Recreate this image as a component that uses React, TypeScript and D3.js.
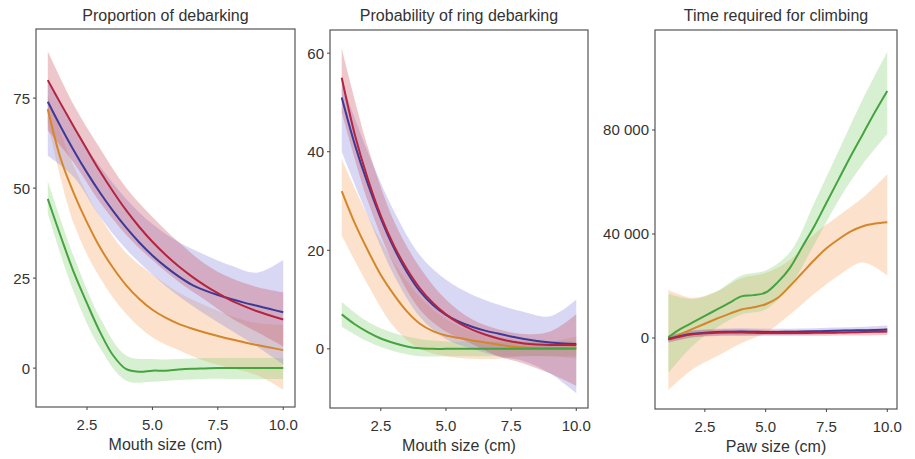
import React from 'react';
import * as d3 from 'd3';

// x grid for the fitted lines (half cm steps) and for the ribbons (whole cm)
const xLine = [1, 1.5, 2, 2.5, 3, 3.5, 4, 4.5, 5, 5.5, 6, 6.5, 7, 7.5, 8, 8.5, 9, 9.5, 10];
const xBand = [1, 2, 3, 4, 5, 6, 7, 8, 9, 10];

const xTicks = [2.5, 5, 7.5, 10];
const xTickLabels = ['2.5', '5.0', '7.5', '10.0'];

// Panel 1: proportion of debarking
const red1 = [80, 73.4, 67, 60.7, 54.6, 49, 43.8, 39.2, 35.1, 31.5, 28.3, 25.5, 23, 20.8, 18.8, 17.2, 15.8, 14.6, 13.5];
const blue1 = [74, 67, 60.4, 54.3, 48.7, 43.6, 39, 34.9, 31.3, 28.2, 25.5, 23.2, 21.6, 20.3, 19.2, 18.2, 17.3, 16.4, 15.5];
const orange1 = [72, 58, 48.5, 40.5, 33.5, 27.8, 23, 19.2, 16.2, 14, 12.3, 11, 9.9, 8.9, 8, 7.2, 6.4, 5.7, 5];
const green1 = [47, 36.5, 26.5, 18, 10, 3.5, -0.3, -1, -0.7, -0.7, -0.4, -0.2, -0.1, 0, 0, 0, 0, 0, 0];
const red1Hi = [88, 73, 61, 50, 42, 35, 29, 25, 22.5, 21];
const red1Lo = [66, 57, 46, 37, 30, 24, 19, 14, 10, 6];
const blue1Hi = [80, 67, 56, 47, 40, 35, 31.5, 28.5, 26.5, 30];
const blue1Lo = [59, 53, 42, 33, 26, 20, 15, 10.5, 6, 1];
const orange1Hi = [76, 56, 42, 32, 26, 21, 17.5, 14.5, 12.5, 12];
const orange1Lo = [68, 40, 25, 15, 8.5, 5, 2, 0, -2, -6];
const green1Hi = [52, 31, 14, 3.5, 2.5, 2.5, 2.8, 2.8, 2.8, 2.8];
const green1Lo = [43, 21, 5.5, -3.5, -3.8, -3.3, -3, -3, -3, -3];

// Panel 2: probability of ring debarking
const red2 = [55, 43.5, 34.5, 27, 21, 16.2, 12.3, 9.3, 7, 5.2, 3.9, 2.9, 2.1, 1.5, 1.1, 0.9, 0.8, 0.8, 0.8];
const blue2 = [51, 41.5, 33.5, 26.5, 20.5, 15.6, 11.7, 8.9, 6.9, 5.5, 4.5, 3.7, 3.1, 2.5, 2, 1.6, 1.3, 1.1, 1];
const orange2 = [32, 25.5, 20, 15, 11, 7.6, 5.1, 3.6, 2.7, 2.2, 1.7, 1.3, 0.9, 0.5, 0.3, 0.2, 0.2, 0.2, 0.3];
const green2 = [7, 5, 3.4, 2.1, 1.2, 0.5, 0.1, 0, 0, 0, 0, 0, 0, 0, 0, 0, 0, 0, 0];
const red2Hi = [61, 41, 26, 16.5, 10, 6, 4, 3, 3.5, 7];
const red2Lo = [48, 30, 17, 8, 3.5, 1, -1.5, -3, -5, -7.5];
const blue2Hi = [54, 40, 28, 19, 14, 11, 9, 7.5, 6.6, 10];
const blue2Lo = [40, 27, 15, 6.5, 2, 0, -1.5, -2.5, -5, -9];
const orange2Hi = [38.5, 27, 17.5, 10.5, 6, 3.5, 2.5, 1.5, 1.5, 2.5];
const orange2Lo = [23, 13, 4.5, 0, -1.5, -2, -2, -1.5, -1.5, -2];
const green2Hi = [9.5, 5.5, 3.2, 2, 1.5, 1.5, 1.5, 1.5, 1.5, 1.5];
const green2Lo = [4.5, 1.5, -0.5, -1.5, -1.5, -1.5, -1.5, -1.5, -1.5, -1.5];

// Panel 3: time required for climbing
const red3 = [-500, 600, 1400, 1800, 2000, 2100, 2100, 2000, 1900, 1900, 1900, 1900, 2000, 2000, 2100, 2200, 2300, 2400, 2500];
const blue3 = [-300, 800, 1600, 2000, 2300, 2400, 2500, 2400, 2300, 2300, 2400, 2500, 2600, 2700, 2800, 2900, 3000, 3100, 3300];
const orange3 = [-300, 1500, 3500, 5500, 7500, 9300, 11000, 11800, 13000, 15500, 20000, 25000, 30000, 34500, 38000, 41000, 43000, 44000, 44500];
const green3 = [300, 3500, 6000, 8500, 11000, 13500, 16000, 16500, 17500, 21500, 27000, 35000, 43000, 52000, 61000, 70000, 78500, 87000, 95000];
const red3Hi = [800, 2800, 3200, 3300, 3100, 3000, 3100, 3300, 3500, 3800];
const red3Lo = [-1800, 200, 800, 800, 900, 900, 900, 1000, 1000, 1200];
const blue3Hi = [900, 3000, 3600, 3800, 3600, 3600, 3800, 4000, 4300, 4800];
const blue3Lo = [-1500, 400, 1000, 1200, 1200, 1200, 1400, 1600, 1800, 2000];
const orange3Hi = [18500, 15500, 18000, 23000, 25000, 30000, 40000, 47000, 54000, 63000];
const orange3Lo = [-20000, -12000, -7000, -2000, 2000, 9000, 17000, 24000, 29000, 24000];
const green3Hi = [17000, 15000, 18000, 24000, 26000, 33000, 52000, 72000, 92000, 110000];
const green3Lo = [-13500, -3000, 4000, 9000, 11000, 20000, 36000, 53000, 67000, 78500];

const colors = {
    orange: { line: '#d4862a', band: '#f7a560' },
    green: { line: '#45a340', band: '#86cf74' },
    blue: { line: '#3b3a98', band: '#8a86dc' },
    red: { line: '#b5243f', band: '#c85060' },
};

const panels = [
    {
        title: 'Proportion of debarking', xLabel: 'Mouth size (cm)',
        box: [36, 29, 295, 407], xDomain: [0.55, 10.45], yDomain: [-10.8, 94.2],
        yTicks: [0, 25, 50, 75], yFmt: (d) => String(d),
        series: [
            { key: 'orange', y: orange1, hi: orange1Hi, lo: orange1Lo },
            { key: 'green', y: green1, hi: green1Hi, lo: green1Lo },
            { key: 'blue', y: blue1, hi: blue1Hi, lo: blue1Lo },
            { key: 'red', y: red1, hi: red1Hi, lo: red1Lo },
        ],
    },
    {
        title: 'Probability of ring debarking', xLabel: 'Mouth size (cm)',
        box: [330, 30, 588, 408], xDomain: [0.55, 10.45], yDomain: [-12, 64.7],
        yTicks: [0, 20, 40, 60], yFmt: (d) => String(d),
        series: [
            { key: 'orange', y: orange2, hi: orange2Hi, lo: orange2Lo },
            { key: 'green', y: green2, hi: green2Hi, lo: green2Lo },
            { key: 'blue', y: blue2, hi: blue2Hi, lo: blue2Lo },
            { key: 'red', y: red2, hi: red2Hi, lo: red2Lo },
        ],
    },
    {
        title: 'Time required for climbing', xLabel: 'Paw size (cm)',
        box: [655, 30, 897, 409], xDomain: [0.45, 10.4], yDomain: [-27300, 118460],
        yTicks: [0, 40000, 80000], yFmt: (d) => (d === 0 ? '0' : d / 1000 + ' 000'),
        series: [
            { key: 'orange', y: orange3, hi: orange3Hi, lo: orange3Lo },
            { key: 'green', y: green3, hi: green3Hi, lo: green3Lo },
            { key: 'blue', y: blue3, hi: blue3Hi, lo: blue3Lo },
            { key: 'red', y: red3, hi: red3Hi, lo: red3Lo },
        ],
    },
];

const font = '"Liberation Sans", Arial, sans-serif';

const Panel = ({ p }) => {
    const [x0, y0, x1, y1] = p.box;
    const x = d3.scaleLinear().domain(p.xDomain).range([x0, x1]);
    const y = d3.scaleLinear().domain(p.yDomain).range([y1, y0]);
    const curve = d3.curveCatmullRom.alpha(0.5);
    const line = d3.line().x((d) => x(d[0])).y((d) => y(d[1])).curve(curve);
    const area = d3.area().x((d) => x(d[0])).y0((d) => y(d[1])).y1((d) => y(d[2])).curve(curve);
    const clipId = 'clip-' + x0;

    return (
        <g>
            <defs>
                <clipPath id={clipId}>
                    <rect x={x0} y={y0} width={x1 - x0} height={y1 - y0} />
                </clipPath>
            </defs>
            <g clipPath={`url(#${clipId})`}>
                {p.series.map((s) => (
                    <path key={'b' + s.key}
                        d={area(xBand.map((xv, i) => [xv, s.lo[i], s.hi[i]]))}
                        fill={colors[s.key].band} fillOpacity={0.32} />
                ))}
                {p.series.map((s) => (
                    <path key={'l' + s.key}
                        d={line(xLine.map((xv, i) => [xv, s.y[i]]))}
                        fill="none" stroke={colors[s.key].line} strokeWidth={2} />
                ))}
            </g>
            <rect x={x0} y={y0} width={x1 - x0} height={y1 - y0} fill="none" stroke="#555" strokeWidth={1.2} />
            {p.yTicks.map((t) => (
                <g key={'y' + t}>
                    <line x1={x0 - 3} x2={x0} y1={y(t)} y2={y(t)} stroke="#444" />
                    <text x={x0 - 6} y={y(t)} dy="0.36em" textAnchor="end" fontSize={15} fill="#333" fontFamily={font}>
                        {p.yFmt(t)}
                    </text>
                </g>
            ))}
            {xTicks.map((t, i) => (
                <g key={'x' + t}>
                    <line x1={x(t)} x2={x(t)} y1={y1} y2={y1 + 3} stroke="#444" />
                    <text x={x(t)} y={y1 + 23} textAnchor="middle" fontSize={15} fill="#333" fontFamily={font}>
                        {xTickLabels[i]}
                    </text>
                </g>
            ))}
            <text x={(x0 + x1) / 2} y={y1 + 43} textAnchor="middle" fontSize={16} fill="#333" fontFamily={font}>
                {p.xLabel}
            </text>
            <text x={(x0 + x1) / 2} y={21} textAnchor="middle" fontSize={16} fill="#333" fontFamily={font}>
                {p.title}
            </text>
        </g>
    );
};

export default function App() {
    return (
        <svg width={915} height={459} style={{ position: 'absolute', left: 0, top: 0, background: '#fff' }}>
            {panels.map((p) => (
                <Panel key={p.title} p={p} />
            ))}
        </svg>
    );
}
